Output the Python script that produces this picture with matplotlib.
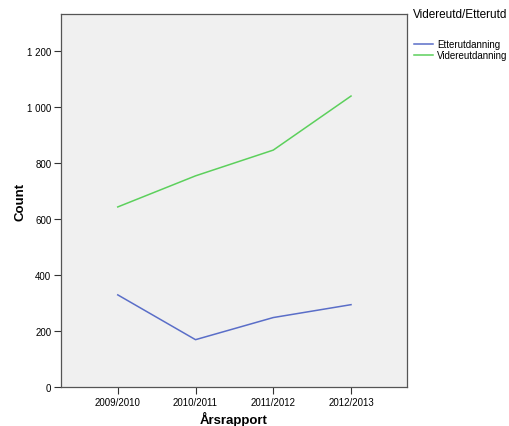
import matplotlib
matplotlib.use('Agg')
import matplotlib.pyplot as plt

plt.rcParams['font.family'] = ['Liberation Sans', 'DejaVu Sans']

years = ['2009/2010', '2010/2011', '2011/2012', '2012/2013']
etter = [329, 169, 248, 294]
videre = [643, 754, 846, 1039]
yticks = [0, 200, 400, 600, 800, 1000, 1200]
ylabels = ['0', '200', '400', '600', '800', '1 000', '1 200']

fig = plt.figure(figsize=(5.09, 4.27), dpi=100)
ax = fig.add_axes([61/509, 1 - 388/427, (407-61)/509, (388-15)/427])
ax.set_facecolor('#f0f0f0')

x = range(len(years))
l1, = ax.plot(x, etter, color='#5a6ec8', lw=1.1, label='Etterutdanning')
l2, = ax.plot(x, videre, color='#5cd05c', lw=1.1, label='Videreutdanning')

ax.set_xlim(-0.73, 3.72)
ax.set_ylim(0, 1332)
ax.set_xticks(list(x))
ax.set_xticklabels(years, fontsize=7)
ax.set_yticks(yticks)
ax.set_yticklabels(ylabels, fontsize=7)
ax.tick_params(length=5, width=0.8, color='#333333', pad=2)
for s in ax.spines.values():
    s.set_color('#555555')
    s.set_linewidth(0.9)

ax.set_xlabel('Årsrapport', fontsize=9.5, fontweight='bold', labelpad=3)
ax.set_ylabel('Count', fontsize=9.5, fontweight='bold', labelpad=0.5)

# legend title and entries
fig.text(413/509, 1 - 15/427, 'Videreutd/Etterutd', fontsize=8.5,
         ha='left', va='center')
leg = fig.legend(handles=[l1, l2], loc='upper left',
                 bbox_to_anchor=(414/509, 1 - 40/427), frameon=False, fontsize=7,
                 handlelength=2.0, handletextpad=0.4,
                 labelspacing=0.1, borderaxespad=0, borderpad=0)

fig.savefig('out.png', dpi=100)
